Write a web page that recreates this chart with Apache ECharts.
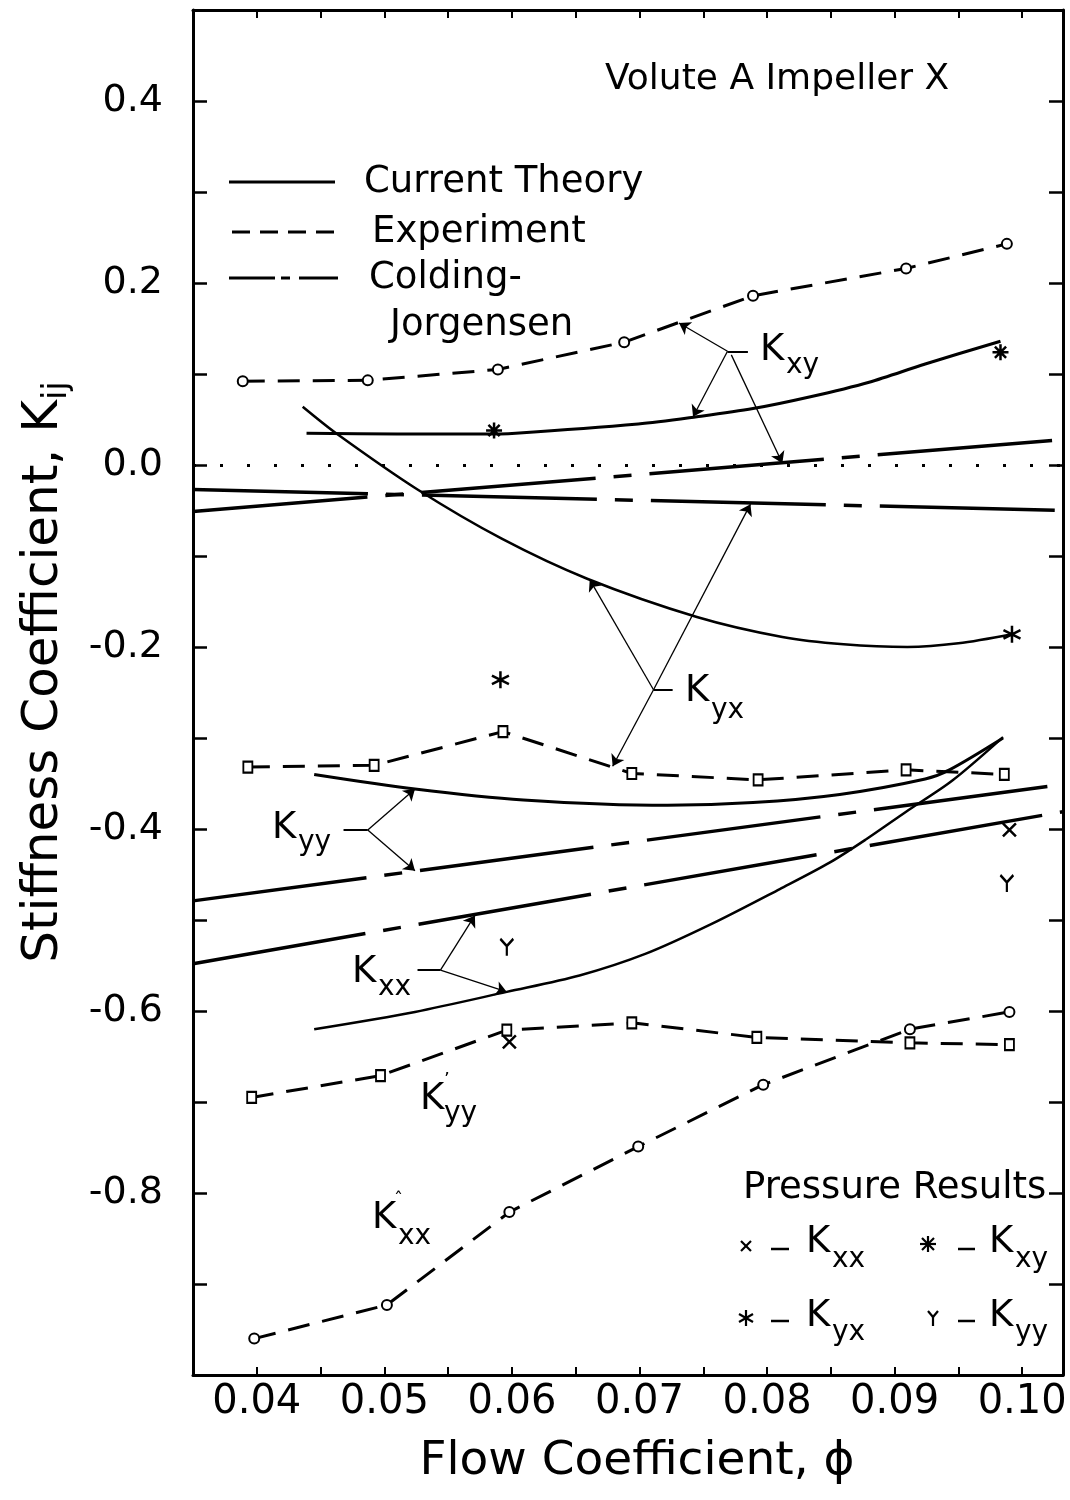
<!DOCTYPE html>
<html>
<head>
<meta charset="utf-8">
<title>Stiffness Coefficient vs Flow Coefficient</title>
<script src="https://cdn.jsdelivr.net/npm/echarts@6/dist/echarts.min.js"></script>
<style>
  html, body { margin: 0; padding: 0; background: #fff; }
  #chart { width: 1070px; height: 1500px; }
</style>
</head>
<body>
<div id="chart"></div>
<script>
// ---- values (phi = flow coefficient, K = stiffness) ----
// experiment (dashed, open markers)
const kxyExpPhi = [0.0389, 0.0487, 0.0589, 0.0688, 0.0789, 0.0909, 0.0988];
const kxyExp    = [0.092, 0.093, 0.105, 0.135, 0.186, 0.216, 0.243];
const kyxExpPhi = [0.0393, 0.0492, 0.0593, 0.0694, 0.0793, 0.0909, 0.0986];
const kyxExp    = [-0.332, -0.330, -0.293, -0.339, -0.346, -0.335, -0.340];
const kyyExpPhi = [0.0396, 0.0497, 0.0596, 0.0694, 0.0792, 0.0912, 0.0990];
const kyyExp    = [-0.695, -0.671, -0.621, -0.613, -0.629, -0.635, -0.637];
const kxxExpPhi = [0.0398, 0.0502, 0.0598, 0.0699, 0.0797, 0.0912, 0.0990];
const kxxExp    = [-0.960, -0.923, -0.821, -0.749, -0.681, -0.620, -0.601];

// current theory (solid)
const kxyThPhi = [0.0439, 0.0510, 0.0576, 0.0603, 0.0699, 0.0745, 0.0789, 0.0834, 0.0880, 0.0924, 0.0983];
const kxyTh    = [0.035, 0.034, 0.034, 0.035, 0.045, 0.053, 0.062, 0.075, 0.091, 0.111, 0.136];
const kyxThPhi = [0.0436, 0.0463, 0.0526, 0.0592, 0.0659, 0.0745, 0.0812, 0.0860, 0.0910, 0.0950, 0.0992];
const kyxTh    = [0.064, 0.034, -0.027, -0.081, -0.125, -0.167, -0.189, -0.197, -0.200, -0.196, -0.186];
const kyyThPhi = [0.0445, 0.0524, 0.0609, 0.0722, 0.0789, 0.0857, 0.0924, 0.0943, 0.0985];
const kyyTh    = [-0.340, -0.356, -0.368, -0.374, -0.371, -0.362, -0.345, -0.335, -0.300];
const kxxThPhi = [0.0445, 0.0524, 0.0596, 0.0653, 0.0705, 0.0757, 0.0810, 0.0849, 0.0878, 0.0909, 0.0945, 0.0985];
const kxxTh    = [-0.620, -0.601, -0.579, -0.561, -0.537, -0.504, -0.466, -0.437, -0.411, -0.381, -0.347, -0.299];

// Colding-Jorgensen (long dash - short dash)
const cjPhi = [0.035, 0.1032];
const kxyCJ = [-0.051, 0.028];
const kyxCJ = [-0.027, -0.050];
const kyyCJ = [-0.479, -0.351];
const kxxCJ = [-0.548, -0.381];

// pressure results (single symbols)
const kxxPresPhi = [0.0598, 0.0990];
const kxxPres    = [-0.634, -0.401];
const kxyPresPhi = [0.0586, 0.0983];
const kxyPres    = [0.038, 0.124];
const kyxPresPhi = [0.0591, 0.0992];
const kyxPres    = [-0.236, -0.186];
const kyyPresPhi = [0.0596, 0.0988];
const kyyPres    = [-0.530, -0.460];

// label arrows [fromPhi, fromK, toPhi, toK]
const arrowLines = [
    [0.0769, 0.125, 0.0731, 0.156],
    [0.0769, 0.125, 0.0742, 0.053],
    [0.0772, 0.121, 0.0812, 0.002],
    [0.0711, -0.247, 0.0661, -0.126],
    [0.0711, -0.247, 0.0787, -0.043],
    [0.0711, -0.247, 0.0679, -0.331],
    [0.0487, -0.401, 0.0524, -0.356],
    [0.0487, -0.401, 0.0524, -0.446],
    [0.0544, -0.555, 0.0571, -0.495],
    [0.0544, -0.555, 0.0596, -0.579]
];
const stubLines = [
    [0.0769, 0.125, 0.0785, 0.125],
    [0.0711, -0.247, 0.0726, -0.247],
    [0.0468, -0.401, 0.0487, -0.401],
    [0.0526, -0.555, 0.0544, -0.555]
];

const FONT = '"DejaVu Sans", "Liberation Sans", sans-serif';
const zip = (xs, ys) => xs.map((x, i) => [x, ys[i]]);

const theory = (name, xs, ys, w) => ({
    name, type: 'line', data: zip(xs, ys), smooth: 0.3,
    symbol: 'none', silent: true, z: 3,
    lineStyle: { color: '#000', width: w }
});
const experiment = (name, xs, ys, sym) => ({
    name, type: 'line', data: zip(xs, ys), symbol: sym,
    symbolSize: sym === 'emptyRect' ? [9, 11] : 10, silent: true, z: 4,
    lineStyle: { color: '#000', width: 3, type: [22, 13] },
    itemStyle: { color: '#000', borderColor: '#000', borderWidth: 2 }
});
const colding = (name, ys) => ({
    name, type: 'line', data: zip(cjPhi, ys), symbol: 'none', silent: true, z: 2,
    lineStyle: { color: '#000', width: 3.5, type: [175, 18, 18, 18] }
});
const pressure = (name, xs, ys, path, size) => ({
    name, type: 'scatter', data: zip(xs, ys), symbol: path, symbolSize: size, silent: true, z: 5,
    itemStyle: { color: 'rgba(0,0,0,0)', borderColor: '#000', borderWidth: 2.5, opacity: 1 }
});

const P_CROSS = 'path://M0,0L10,10M10,0L0,10';
const P_AST8 = 'path://M5,0L5,10M0,5L10,5M1.5,1.5L8.5,8.5M8.5,1.5L1.5,8.5';
const P_AST6 = 'path://M5,0L5,10M0.7,2.5L9.3,7.5M9.3,2.5L0.7,7.5';
const P_Y = 'path://M0,0L5,6L10,0M5,6L5,14';

const fmtPhi = (v) => {
    const k = Math.round(v * 1000);
    return k % 10 === 0 ? (k / 1000).toFixed(2) : '';
};
const fmtK = (v) => {
    const r = Math.round(v * 10);
    if (r % 2 !== 0 || r < -8 || r > 4) return '';
    return (r / 10).toFixed(1);
};

// ---- annotation graphics (pixel layout) ----
const txt = (x, y, text, size, align) => ({
    type: 'text', x, y, silent: true,
    style: {
        text, fontSize: size, fontFamily: FONT, fill: '#000',
        align: align || 'left', verticalAlign: 'middle',
        textAlign: align || 'left', textVerticalAlign: 'middle'
    }
});
const seg = (x1, y1, x2, y2, w, dash) => ({
    type: 'line', silent: true,
    shape: { x1, y1, x2, y2 },
    style: { stroke: '#000', lineWidth: w, lineDash: dash || null }
});
const glyph = (cx, cy, segs) => ({
    type: 'group', x: cx, y: cy, silent: true,
    children: segs.map(s => seg(s[0], s[1], s[2], s[3], 2.2))
});

// K label: [K left, K centre y, subscript, sub left, sub centre y]
const kLabels = [
    [760, 350, 'xy', 786, 366],
    [685, 691, 'yx', 711, 711],
    [272, 828, 'yy', 298, 843],
    [352, 972, 'xx', 378, 988],
    [420, 1099, 'yy', 444, 1114],
    [372, 1218, 'xx', 398, 1237],
    [806, 1242, 'xx', 832, 1260],
    [989, 1242, 'xy', 1015, 1260],
    [806, 1316, 'yx', 832, 1333],
    [989, 1316, 'yy', 1015, 1333]
];

const graphics = [];
kLabels.forEach(l => {
    graphics.push(txt(l[0], l[1], 'K', 37));
    graphics.push(txt(l[3], l[4], l[2], 28));
});
// small primes on the experimental labels
graphics.push(txt(444, 1080, '\u2019', 18));
graphics.push(txt(394, 1200, '\u02c6', 18));

graphics.push(
    txt(605, 80, 'Volute A Impeller X', 36),
    // line-style legend
    seg(229, 182, 335, 182, 3),
    seg(232, 232, 335, 232, 3, [18, 10]),
    seg(229, 278, 338, 278, 3, [46, 6, 9, 9]),
    txt(364, 182, 'Current Theory', 37),
    txt(372, 232, 'Experiment', 37),
    txt(369, 278, 'Colding-', 37),
    txt(390, 325, 'Jorgensen', 37),
    // pressure results legend
    txt(743, 1188, 'Pressure Results', 37),
    glyph(746, 1246, [[-5, -5, 5, 5], [5, -5, -5, 5]]),
    glyph(928, 1244, [[0, -8, 0, 8], [-8, 0, 8, 0], [-6, -6, 6, 6], [6, -6, -6, 6]]),
    glyph(746, 1318, [[0, -8, 0, 8], [-7, -4, 7, 4], [7, -4, -7, 4]]),
    glyph(933, 1318, [[-5, -7, 0, -1], [5, -7, 0, -1], [0, -1, 0, 8]]),
    seg(771, 1249, 789, 1249, 2.5),
    seg(958, 1249, 975, 1249, 2.5),
    seg(771, 1321, 789, 1321, 2.5),
    seg(958, 1321, 975, 1321, 2.5),
    // axis titles
    {
        type: 'text', x: 44, y: 672, rotation: Math.PI / 2, silent: true,
        style: {
            text: '{a|Stiffness Coefficient, K}{s|ij}', fontFamily: FONT, fill: '#000',
            align: 'center', verticalAlign: 'middle', textAlign: 'center', textVerticalAlign: 'middle',
            rich: {
                a: { fontSize: 50, lineHeight: 60, fontFamily: FONT, fill: '#000' },
                s: { fontSize: 34, lineHeight: 30, verticalAlign: 'bottom', fontFamily: FONT, fill: '#000' }
            }
        }
    },
    txt(637, 1462, 'Flow Coefficient, \u03d5', 47, 'center')
);

const chart = echarts.init(document.getElementById('chart'));

chart.setOption({
    animation: false,
    backgroundColor: '#fff',
    grid: { left: 193, right: 7, top: 10, bottom: 125 },
    xAxis: [
        {
            type: 'value', position: 'bottom', min: 0.035, max: 0.1032, interval: 0.005,
            axisLine: { onZero: false, lineStyle: { color: '#000', width: 3 } },
            axisTick: { inside: true, length: 8, lineStyle: { color: '#000', width: 2 } },
            axisLabel: { formatter: fmtPhi, color: '#000', fontSize: 40, fontFamily: FONT, margin: 8, showMinLabel: false, showMaxLabel: false },
            splitLine: { show: false }
        },
        {
            type: 'value', position: 'top', min: 0.035, max: 0.1032, interval: 0.005,
            axisLine: { onZero: false, lineStyle: { color: '#000', width: 3 } },
            axisTick: { inside: true, length: 8, lineStyle: { color: '#000', width: 2 } },
            axisLabel: { show: false },
            splitLine: { show: false }
        }
    ],
    yAxis: [
        {
            type: 'value', position: 'left', min: -1, max: 0.5, interval: 0.1,
            axisLine: { onZero: false, lineStyle: { color: '#000', width: 3 } },
            axisTick: { inside: true, length: 14, lineStyle: { color: '#000', width: 2.5 } },
            axisLabel: { formatter: fmtK, color: '#000', fontSize: 38, fontFamily: FONT, margin: 30 },
            splitLine: { show: false }
        },
        {
            type: 'value', position: 'right', min: -1, max: 0.5, interval: 0.1,
            axisLine: { onZero: false, lineStyle: { color: '#000', width: 3 } },
            axisTick: { inside: true, length: 14, lineStyle: { color: '#000', width: 2.5 } },
            axisLabel: { show: false },
            splitLine: { show: false }
        }
    ],
    series: [
        colding('Kxy CJ', kxyCJ),
        colding('Kyx CJ', kyxCJ),
        colding('Kyy CJ', kyyCJ),
        colding('Kxx CJ', kxxCJ),
        theory('Kxy theory', kxyThPhi, kxyTh, 3),
        theory('Kyx theory', kyxThPhi, kyxTh, 2.5),
        theory('Kyy theory', kyyThPhi, kyyTh, 3),
        theory('Kxx theory', kxxThPhi, kxxTh, 2.5),
        experiment('Kxy experiment', kxyExpPhi, kxyExp, 'emptyCircle'),
        experiment('Kyx experiment', kyxExpPhi, kyxExp, 'emptyRect'),
        experiment('Kyy experiment', kyyExpPhi, kyyExp, 'emptyRect'),
        experiment('Kxx experiment', kxxExpPhi, kxxExp, 'emptyCircle'),
        pressure('Kxx pressure', kxxPresPhi, kxxPres, P_CROSS, 13),
        pressure('Kxy pressure', kxyPresPhi, kxyPres, P_AST8, 16),
        pressure('Kyx pressure', kyxPresPhi, kyxPres, P_AST6, 17),
        pressure('Kyy pressure', kyyPresPhi, kyyPres, P_Y, [13, 17]),
        {
            name: 'zero', type: 'line', data: [], silent: true,
            markLine: {
                silent: true, symbol: 'none', label: { show: false },
                lineStyle: { color: '#000', width: 3, type: [3, 24] },
                data: [{ yAxis: 0 }]
            }
        },
        {
            name: 'arrows', type: 'line', data: [], silent: true,
            markLine: {
                silent: true, symbol: ['none', 'arrow'], symbolSize: 11, label: { show: false },
                lineStyle: { color: '#000', width: 1.3, type: 'solid' },
                data: arrowLines.map(a => [{ coord: [a[0], a[1]] }, { coord: [a[2], a[3]] }])
            }
        },
        {
            name: 'stubs', type: 'line', data: [], silent: true,
            markLine: {
                silent: true, symbol: 'none', label: { show: false },
                lineStyle: { color: '#000', width: 2, type: 'solid' },
                data: stubLines.map(a => [{ coord: [a[0], a[1]] }, { coord: [a[2], a[3]] }])
            }
        }
    ],
    graphic: graphics
});
</script>
</body>
</html>
